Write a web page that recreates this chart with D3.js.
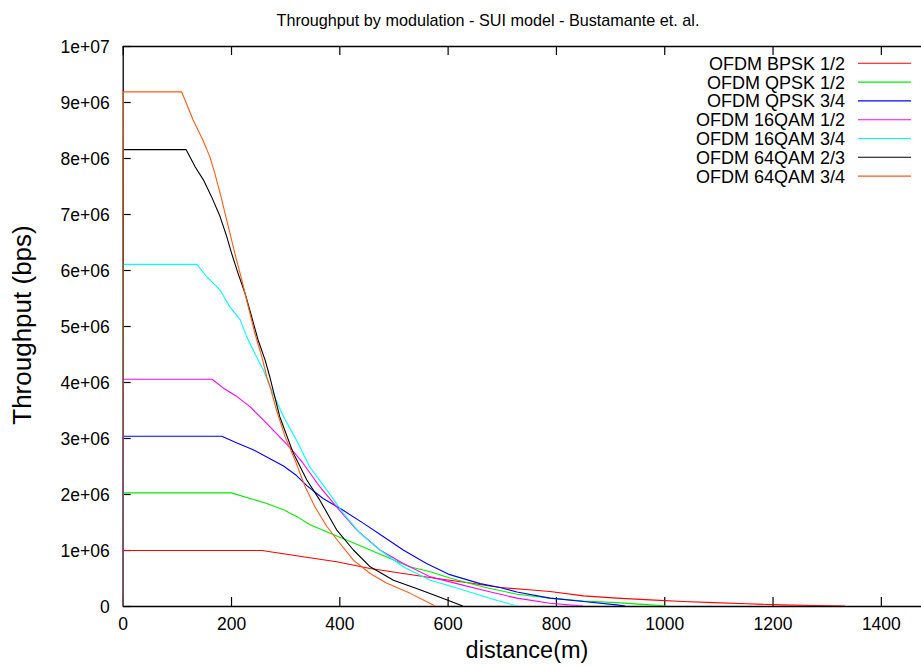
<!DOCTYPE html>
<html>
<head>
<meta charset="utf-8">
<script src="https://cdn.jsdelivr.net/npm/d3@7/dist/d3.min.js"></script>
<style>
  body { margin: 0; background: #fff; }
  svg { font-family: "Liberation Sans", Arial, sans-serif; }
</style>
</head>
<body>
<script>
// Throughput vs distance per modulation (gnuplot style)

// 1. data: [distance (m), throughput (bps / 1e6)]
var bpsk12 = [[0,0],[1,0.99],[258,0.99],[272,0.97],[300,0.93],[333,0.88],[395,0.79],[457,0.67],[518,0.58],[580,0.49],[641,0.41],[697,0.33],[750,0.29],[789,0.26],[851,0.18],[912,0.14],[974,0.11],[1035,0.08],[1091,0.06],[1152,0.04],[1214,0.02],[1275,0.01],[1334,0]];
var qpsk12 = [[0,0],[1,2.02],[201,2.02],[235,1.92],[266,1.83],[297,1.72],[321,1.60],[346,1.45],[383,1.30],[420,1.15],[457,1.0],[494,0.85],[530,0.70],[568,0.61],[604,0.50],[666,0.34],[728,0.21],[789,0.14],[851,0.09],[912,0.06],[974,0.02],[1005,0]];
var qpsk34 = [[0,0],[1,3.03],[183,3.03],[211,2.91],[241,2.79],[272,2.63],[297,2.50],[321,2.33],[340,2.15],[370,1.92],[407,1.71],[444,1.48],[481,1.24],[518,1.0],[561,0.76],[604,0.56],[660,0.40],[697,0.33],[728,0.25],[789,0.14],[851,0.08],[912,0.02],[928,0]];
var qam16_12 = [[0,0],[1,4.05],[165,4.05],[186,3.89],[211,3.74],[235,3.56],[260,3.32],[284,3.08],[309,2.83],[333,2.55],[364,2.13],[395,1.77],[432,1.36],[475,1.0],[518,0.76],[568,0.52],[617,0.40],[666,0.28],[728,0.14],[789,0.05],[850,0]];
var qam16_34 = [[0,0],[1,6.1],[137,6.1],[155,5.88],[180,5.64],[198,5.34],[217,5.11],[229,4.81],[244,4.51],[260,4.21],[272,3.92],[297,3.38],[321,2.96],[345,2.49],[377,2.07],[407,1.66],[438,1.30],[475,1.0],[518,0.70],[568,0.46],[617,0.32],[684,0.12],[728,0]];
var qam64_23 = [[0,0],[1,8.15],[117,8.15],[134,7.84],[149,7.61],[164,7.31],[180,6.95],[192,6.6],[201,6.3],[213,5.94],[226,5.58],[238,5.17],[250,4.75],[263,4.39],[272,4.08],[290,3.38],[315,2.73],[340,2.25],[364,1.89],[395,1.36],[426,1.0],[457,0.70],[500,0.46],[549,0.29],[598,0.11],[628,0]];
var qam64_34 = [[0,0],[1,9.18],[109,9.18],[130,8.68],[148,8.32],[161,8.02],[170,7.73],[180,7.37],[189,7.01],[198,6.66],[207,6.30],[220,5.82],[232,5.34],[244,4.87],[257,4.45],[266,4.09],[272,3.92],[284,3.5],[300,3.02],[318,2.61],[337,2.13],[355,1.77],[377,1.42],[401,1.12],[426,0.82],[457,0.58],[487,0.41],[530,0.23],[577,0]];

var seriesNames = ["OFDM BPSK 1/2", "OFDM QPSK 1/2", "OFDM QPSK 3/4", "OFDM 16QAM 1/2", "OFDM 16QAM 3/4", "OFDM 64QAM 2/3", "OFDM 64QAM 3/4"];
var seriesData = [bpsk12, qpsk12, qpsk34, qam16_12, qam16_34, qam64_23, qam64_34];
var seriesColors = ["#ff0000", "#00ee00", "#0000ff", "#ff00ff", "#00ffff", "#000000", "#ff5a14"];

var xTicks = [0, 200, 400, 600, 800, 1000, 1200, 1400];
var yTicks = [0, 1e6, 2e6, 3e6, 4e6, 5e6, 6e6, 7e6, 8e6, 9e6, 1e7];
var yTickLabels = ["0", "1e+06", "2e+06", "3e+06", "4e+06", "5e+06", "6e+06", "7e+06", "8e+06", "9e+06", "1e+07"];

// 2. size, the plot runs a little past the right edge of the picture
var outWidth = 921, outHeight = 666;
var plot = {left: 122.7, right: 935, top: 46, bottom: 606};

var xScale = d3.scaleLinear().domain([0, 1500]).range([plot.left, plot.right]);
var yScale = d3.scaleLinear().domain([0, 1e7]).range([plot.bottom, plot.top]);

var svg = d3.select("body").append("svg")
    .attr("width", outWidth)
    .attr("height", outHeight);

svg.append("clipPath").attr("id", "clip")
  .append("rect")
    .attr("x", plot.left).attr("y", plot.top)
    .attr("width", plot.right - plot.left)
    .attr("height", plot.bottom - plot.top);

// 3. axes, ticks inside and mirrored on top
var xAxis = d3.axisBottom(xScale).tickValues(xTicks).tickSizeInner(-9).tickSizeOuter(0).tickPadding(12)
    .tickFormat(d3.format("d"));
var xAxisTop = d3.axisTop(xScale).tickValues(xTicks).tickSizeInner(-9).tickSizeOuter(0).tickFormat("");
var yAxis = d3.axisLeft(yScale).tickValues(yTicks).tickSizeInner(-8).tickSizeOuter(0).tickPadding(13)
    .tickFormat(function(d, i) { return yTickLabels[i]; });

var gx = svg.append("g")
    .attr("transform", "translate(0," + plot.bottom + ")")
    .call(xAxis);
svg.append("g")
    .attr("transform", "translate(0," + plot.top + ")")
    .call(xAxisTop);
var gy = svg.append("g")
    .attr("transform", "translate(" + plot.left + ",0)")
    .call(yAxis);

svg.selectAll(".domain").attr("stroke", "#000").attr("stroke-width", 1.3);
svg.selectAll(".tick line").attr("stroke", "#000").attr("stroke-width", 1.2);
svg.selectAll(".tick text")
    .attr("fill", "#000")
    .style("font-family", "'Liberation Sans', Arial, sans-serif")
    .style("font-size", "17.5px");
gx.selectAll(".tick text").attr("dy", "0.71em");
gy.selectAll(".tick text").attr("dy", "0.36em");

// 4. lines
var line = d3.line()
    .x(function(d) { return xScale(d[0]); })
    .y(function(d) { return yScale(d[1] * 1e6); });

svg.append("g").attr("clip-path", "url(#clip)")
  .selectAll("path")
    .data(seriesData)
  .enter().append("path")
    .attr("d", line)
    .attr("fill", "none")
    .attr("stroke", function(d, i) { return seriesColors[i]; })
    .attr("stroke-width", 1.1)
    .attr("stroke-linejoin", "round");

// 5. legend
var legend = svg.selectAll(".legend")
    .data(seriesNames)
  .enter().append("g")
    .attr("class", "legend")
    .attr("transform", function(d, i) { return "translate(0," + (63.3 + i * 18.8) + ")"; });

legend.append("text")
    .attr("x", 845)
    .attr("y", 0)
    .attr("dy", "0.36em")
    .style("text-anchor", "end")
    .style("font-size", "18px")
    .text(function(d) { return d; });

legend.append("line")
    .attr("x1", 858).attr("x2", 911)
    .attr("y1", 0).attr("y2", 0)
    .attr("stroke", function(d, i) { return seriesColors[i]; })
    .attr("stroke-width", 1.1);

// 6. titles
svg.append("text")
    .attr("x", 488)
    .attr("y", 26)
    .attr("text-anchor", "middle")
    .style("font-size", "16.2px")
    .text("Throughput by modulation - SUI model - Bustamante et. al.");

svg.append("text")
    .attr("x", 527)
    .attr("y", 658)
    .attr("text-anchor", "middle")
    .style("font-size", "23.5px")
    .text("distance(m)");

svg.append("text")
    .attr("transform", "translate(31,325) rotate(-90)")
    .attr("text-anchor", "middle")
    .style("font-size", "26px")
    .text("Throughput (bps)");
</script>
</body>
</html>
